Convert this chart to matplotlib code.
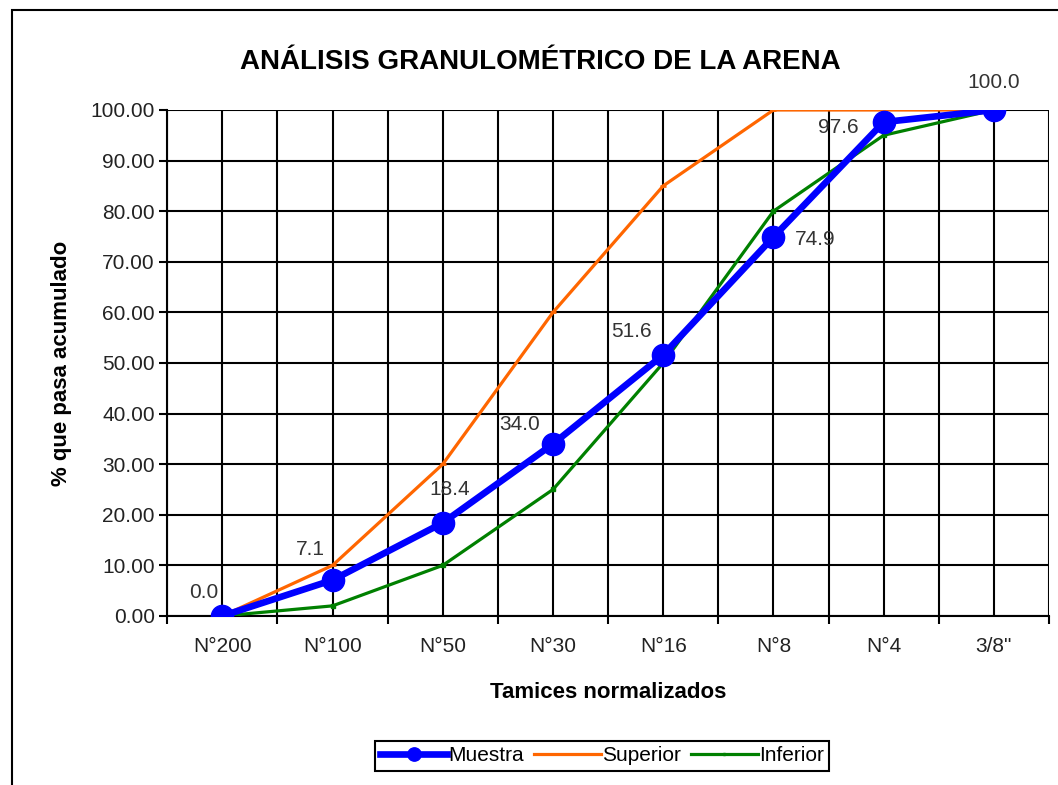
import matplotlib.pyplot as plt
from matplotlib.patches import Rectangle

plt.rcParams['font.family'] = ['Liberation Sans', 'DejaVu Sans']

tamices = ["N°200", "N°100", "N°50", "N°30", "N°16", "N°8", "N°4", '3/8"']
muestra = [0.0, 7.1, 18.4, 34.0, 51.6, 74.9, 97.6, 100.0]
superior = [0, 10, 30, 60, 85, 100, 100, 100]
inferior = [0, 2, 10, 25, 50, 80, 95, 100]

# label offsets in points (dx, dy)
label_off = [(-13, 17), (-16, 22), (5, 24), (-24, 14), (-23, 17), (30, -2), (-33, -4), (0, 20)]

fig = plt.figure(figsize=(10.58, 7.85), dpi=100)
ax = fig.add_axes([0.158, 0.2153, 0.8335, 0.6446])

x = list(range(len(tamices)))
ax.plot(x, superior, color='#FF6600', lw=2.3, marker='_', ms=5, mew=2, label='Superior', zorder=3)
ax.plot(x, inferior, color='#008000', lw=2.3, marker='s', ms=3, label='Inferior', zorder=3)
ax.plot(x, muestra, color='#0000FF', lw=4.8, marker='o', ms=16, label='Muestra', zorder=4)

for xi, v, (dx, dy) in zip(x, muestra, label_off):
    ax.annotate('%.1f' % v, (xi, v), xytext=(dx, dy), textcoords='offset points',
                ha='center', va='center', fontsize=15, color='#333333', zorder=5)

ax.set_xlim(-0.5, len(tamices) - 0.5)
ax.set_ylim(0, 100)
ax.set_yticks(range(0, 101, 10))
ax.set_yticklabels(['%.2f' % t for t in range(0, 101, 10)], fontsize=15, color='#222222')
ax.set_xticks([i - 0.5 for i in range(len(tamices) + 1)])
ax.set_xticklabels([])
ax.set_xticks(x, minor=True)
ax.set_xticklabels(tamices, minor=True, fontsize=15, color='#222222')
ax.tick_params(axis='x', which='minor', length=0, pad=15)
ax.tick_params(axis='x', which='major', length=6, width=1.5, color='black')
ax.tick_params(axis='y', length=6, width=1.5, pad=3)

for xv in [i * 0.5 - 0.5 for i in range(2 * len(tamices) + 1)]:
    ax.axvline(xv, color='black', lw=1.5, zorder=1)
ax.grid(axis='y', color='black', lw=1.5, zorder=1)
ax.set_axisbelow(True)
for s in ['top', 'right']:
    ax.spines[s].set_visible(False)
ax.spines['left'].set_linewidth(1.5)
ax.spines['bottom'].set_linewidth(1.5)

ax.set_xlabel('Tamices normalizados', fontsize=16, fontweight='bold', labelpad=19)
ax.set_ylabel('% que pasa acumulado', fontsize=16, fontweight='bold', labelpad=13)
fig.text(0.511, 0.921, 'ANÁLISIS GRANULOMÉTRICO DE LA ARENA', ha='center', va='center',
         fontsize=20, fontweight='bold')

h, l = ax.get_legend_handles_labels()
order = [2, 0, 1]
leg = fig.legend([h[i] for i in order], [l[i] for i in order], loc='center',
                 bbox_to_anchor=(0.569, 0.037), ncol=3, fontsize=15, handlelength=3.2,
                 handletextpad=0.05, columnspacing=0.5, fancybox=False, framealpha=1,
                 borderpad=0.25, edgecolor='black', markerscale=0.6)
leg.get_frame().set_linewidth(1.5)

fig.patches.append(Rectangle((0.0115, -0.05), 1.1, 1.037, transform=fig.transFigure,
                             fill=False, edgecolor='black', lw=1.5))

fig.savefig('out.png', dpi=100)
